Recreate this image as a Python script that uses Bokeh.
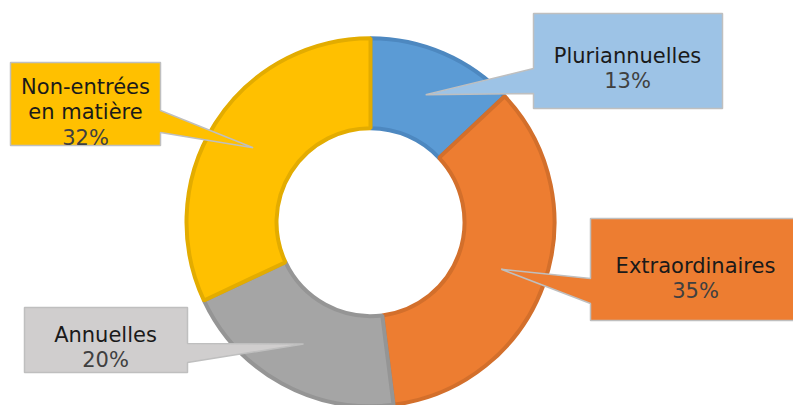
import math
from bokeh.plotting import figure
from bokeh.models import Range1d
from bokeh.embed import file_html
from bokeh.resources import INLINE
from bokeh.core.properties import value

# ---- data ----
categories = ["Pluriannuelles", "Extraordinaires", "Annuelles", "Non-entrées\nen matière"]
shares = [13, 35, 20, 32]

# ---- styles ----
fill_colors = ["#5B9BD5", "#ED7D31", "#A5A5A5", "#FFC000"]
edge_colors = ["#4D88C0", "#D36F2B", "#959595", "#E3AC00"]
box_colors = ["#9DC3E6", "#ED7D31", "#D0CECE", "#FFC000"]

W, H = 793, 405
# layout in screen pixels (y downward); converted below
layout = [
    dict(box=(533, 13, 722, 108), side="left", attach=(68, 93), tx=627, base=55),
    dict(box=(590, 218, 800, 320), side="left", attach=(278, 303), tx=695, base=265),
    dict(box=(24, 307, 187, 372), side="right", attach=(343, 362), tx=105, base=334),
    dict(box=(10, 62, 160, 145), side="right", attach=(110, 132), tx=85, base=86),
]
CX, CY = 370, 221.7
R_OUT, R_IN = 184, 94
LINE_H = 25.5
FONT = "DejaVu Sans"


def fy(py):
    return H - py


p = figure(width=W, height=H, output_backend="svg", toolbar_location=None,
           x_range=Range1d(0, W), y_range=Range1d(0, H),
           min_border=0)
p.axis.visible = False
p.grid.visible = False
p.outline_line_color = None
p.background_fill_color = "white"
p.border_fill_color = "white"

total = sum(shares)
cum = 0
mids = []
for i, s in enumerate(shares):
    a0 = math.pi / 2 - 2 * math.pi * cum / total
    a1 = math.pi / 2 - 2 * math.pi * (cum + s) / total
    cum += s
    mids.append((a0 + a1) / 2)
    p.annular_wedge(x=CX, y=fy(CY), inner_radius=R_IN, outer_radius=R_OUT,
                    start_angle=a0, end_angle=a1, direction="clock",
                    fill_color=fill_colors[i], line_color=edge_colors[i], line_width=4)

r_mid = (R_IN + R_OUT) / 2
for i, (cat, s) in enumerate(zip(categories, shares)):
    L = layout[i]
    l, t, r, b = L["box"]
    tipx = CX + r_mid * math.cos(mids[i])
    tipy = fy(CY) + r_mid * math.sin(mids[i])
    a1, a2 = L["attach"]
    if L["side"] == "left":
        pts = [(l, t), (r, t), (r, b), (l, b), (l, a2), None, (l, a1)]
    else:
        pts = [(l, t), (r, t), (r, a1), None, (r, a2), (r, b), (l, b)]
    xs, ys = [], []
    for pt in pts:
        if pt is None:
            xs.append(tipx)
            ys.append(tipy)
        else:
            xs.append(pt[0])
            ys.append(fy(pt[1]))
    p.patch(xs, ys, fill_color=box_colors[i], line_color="#BFBFBF", line_width=1.5)

    lines = cat.split("\n") + [f"{s}%"]
    for k, txt in enumerate(lines):
        is_pct = k == len(lines) - 1
        p.text(x=[L["tx"]], y=[fy(L["base"] + k * LINE_H)], text=[txt],
               text_align="center", text_baseline="alphabetic",
               text_font=value(FONT), text_font_size="21px",
               text_color="#404040" if is_pct else "#1A1A1A")

open("out.html", "w").write(file_html(p, INLINE))
